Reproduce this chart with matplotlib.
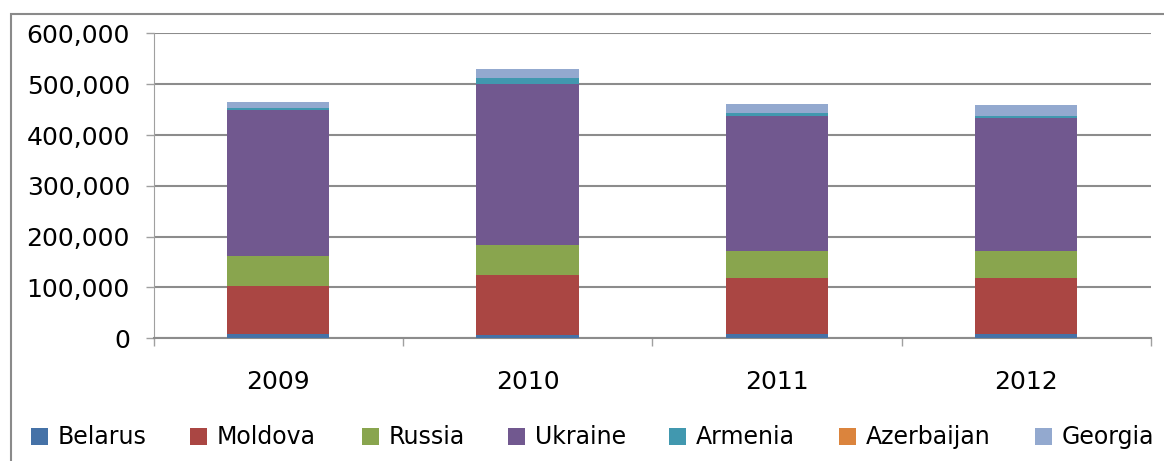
import matplotlib
matplotlib.use("Agg")
import matplotlib.pyplot as plt
from matplotlib.patches import Rectangle
from matplotlib.ticker import FuncFormatter, FixedLocator
import numpy as np

years = ["2009", "2010", "2011", "2012"]
belarus = [8500, 6000, 8500, 8500]
moldova = [94000, 118500, 110000, 110000]
russia = [59000, 59000, 53000, 53000]
ukraine = [288000, 317000, 266000, 262000]
armenia = [3500, 12000, 6000, 4000]
azerbaijan = [300, 300, 300, 300]
georgia = [12000, 18000, 17500, 22000]

series = [
    ("Belarus", belarus, "#4572A7"),
    ("Moldova", moldova, "#AA4643"),
    ("Russia", russia, "#89A54E"),
    ("Ukraine", ukraine, "#71588F"),
    ("Armenia", armenia, "#4198AF"),
    ("Azerbaijan", azerbaijan, "#DB843D"),
    ("Georgia", georgia, "#93A9CF"),
]
# legend marker x positions (pixels) - layout only
legend_x = [31, 190, 362, 508, 669, 839, 1035]

W, H = 1164, 461
plt.rcParams["font.family"] = ["DejaVu Sans"]
fig = plt.figure(figsize=(W / 100, H / 100), dpi=100)

# outer chart border
fig.patches.append(Rectangle((11 / W, -0.1), 1.2, (H - 14) / H + 0.1,
                             transform=fig.transFigure, fill=False,
                             edgecolor="#8a8a8a", linewidth=1.5))

ax = fig.add_axes([153.5 / W, 122.7 / H, (1151 - 153.5) / W, (427.5 - 122.7) / H])
x = np.arange(len(years))
bottom = np.zeros(len(years))
for name, vals, col in series:
    ax.bar(x, vals, width=0.41, bottom=bottom, color=col, label=name, zorder=3)
    bottom += np.array(vals)

ax.set_xlim(-0.5, len(years) - 0.5)
ax.set_ylim(0, 600000)
ax.set_yticks(np.arange(0, 600001, 100000))
ax.yaxis.set_major_formatter(FuncFormatter(lambda v, p: f"{int(v):,}"))
ax.grid(axis="y", color="#8c8c8c", linewidth=1.5, zorder=0)
for s in ["top", "right"]:
    ax.spines[s].set_visible(False)
ax.spines["left"].set_color("#a0a0a0")
ax.spines["bottom"].set_color("#8c8c8c")
ax.spines["bottom"].set_linewidth(1.5)

ax.set_xticks(x)
ax.set_xticklabels(years)
ax.xaxis.set_minor_locator(FixedLocator(np.arange(-0.5, len(years), 1.0)))
ax.tick_params(axis="x", which="major", length=0, pad=23, labelsize=18)
ax.tick_params(axis="x", which="minor", length=6, color="#a0a0a0", width=1)
ax.tick_params(axis="y", length=6, color="#a0a0a0", width=1, pad=11, labelsize=18)

# legend
for (name, vals, col), lx in zip(series, legend_x):
    fig.patches.append(Rectangle((lx / W, (H - 445) / H), 17 / W, 17 / H,
                                 transform=fig.transFigure, facecolor=col,
                                 edgecolor="none"))
    fig.text((lx + 27) / W, (H - 436.5) / H, name, fontsize=17,
             ha="left", va="center")

fig.savefig("out.png", dpi=100)
